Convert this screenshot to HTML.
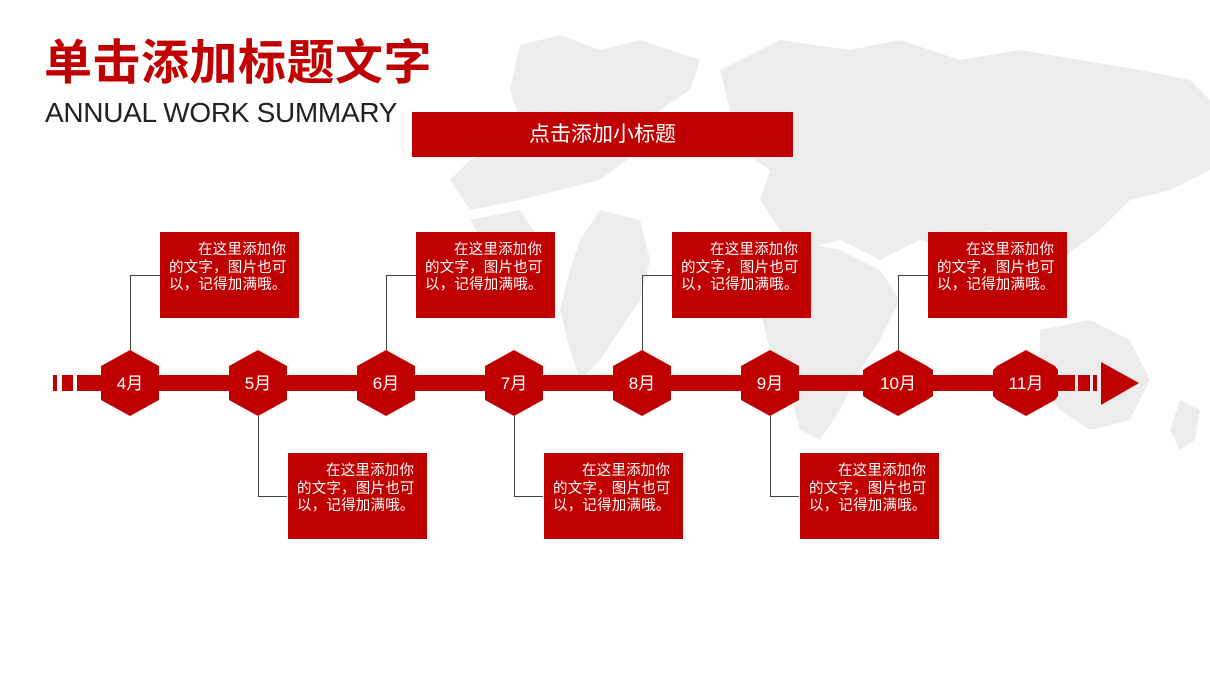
<!DOCTYPE html>
<html><head><meta charset="utf-8"><style>
body{margin:0;width:1210px;height:680px;overflow:hidden;background:#fff;position:relative;font-family:"Liberation Sans","Noto Sans CJK SC",sans-serif}
.abs{position:absolute}
.box{position:absolute;width:139px;height:86px;background:#c00000;color:#fff;font-size:14.5px;line-height:17.5px;box-sizing:border-box;padding:10px 8px 0 9px;text-indent:29px;letter-spacing:0.2px}
</style></head><body>
<svg class="abs" style="left:0;top:0" width="1210" height="680">
<g fill="#ececec">
<path d="M520 45 L560 35 L600 50 L640 40 L700 60 L690 90 L660 110 L640 150 L600 180 L560 190 L520 200 L470 210 L450 180 L470 160 L500 150 L520 120 L510 90 Z"/>
<path d="M720 70 L780 40 L850 50 L900 40 L960 60 L1020 50 L1080 60 L1140 70 L1190 80 L1210 100 L1210 170 L1170 190 L1130 200 L1100 230 L1060 260 L1030 250 L990 230 L950 250 L920 240 L880 260 L840 240 L800 250 L780 230 L760 200 L770 170 L740 150 L730 110 Z"/>
<path d="M600 210 L640 220 L650 260 L640 300 L620 330 L600 360 L580 380 L570 350 L560 310 L570 270 L580 240 Z"/>
<path d="M790 240 L840 250 L880 270 L900 300 L880 340 L860 370 L840 410 L820 440 L800 430 L790 390 L770 350 L760 310 L770 270 Z"/>
<path d="M1040 330 L1090 320 L1130 340 L1150 380 L1130 420 L1090 430 L1060 410 L1040 380 Z"/>
<path d="M1180 400 L1200 410 L1195 440 L1180 450 L1170 430 Z"/>
<path d="M470 220 L520 210 L540 240 L520 260 L490 255 Z"/>
</g>
<g fill="#c00000">
<rect x="53" y="375" width="4" height="16"/>
<rect x="62" y="375" width="11" height="16"/>
<rect x="77" y="375" width="20" height="16"/>
<rect x="97" y="375" width="978" height="16"/>
<rect x="1078" y="375" width="12" height="16"/>
<rect x="1093" y="375" width="4" height="16"/>
<polygon points="1101,362 1139,383 1101,405"/>
</g>
<g fill="none" stroke="#444" stroke-width="1">
<polyline points="130.5,350 130.5,275.5 160,275.5"/>
<polyline points="386.5,350 386.5,275.5 416,275.5"/>
<polyline points="642.5,350 642.5,275.5 672,275.5"/>
<polyline points="898.5,350 898.5,275.5 928,275.5"/>
<polyline points="258.5,416 258.5,496.5 287,496.5"/>
<polyline points="514.5,416 514.5,496.5 543,496.5"/>
<polyline points="770.5,416 770.5,496.5 799,496.5"/>
</g>
<g fill="#c00000">
<polygon points="130,350 159,366 159,400 130,416 101,400 101,366"/>
<polygon points="258,350 287,366 287,400 258,416 229,400 229,366"/>
<polygon points="386,350 415,366 415,400 386,416 357,400 357,366"/>
<polygon points="514,350 543,366 543,400 514,416 485,400 485,366"/>
<polygon points="642,350 671,366 671,400 642,416 613,400 613,366"/>
<polygon points="770,350 799,366 799,400 770,416 741,400 741,366"/>
<polygon points="898,350 927,366 933,370 933,396 927,400 898,416 869,400 863,396 863,370 869,366"/>
<polygon points="1026,350 1055,366 1058,370 1058,396 1055,400 1026,416 997,400 993,396 993,370 997,366"/>
</g>
<g fill="#fff" font-size="17" text-anchor="middle" font-family="Liberation Sans,Noto Sans CJK SC,sans-serif">
<text x="130" y="389">4月</text><text x="258" y="389">5月</text><text x="386" y="389">6月</text><text x="514" y="389">7月</text>
<text x="642" y="389">8月</text><text x="770" y="389">9月</text><text x="898" y="389">10月</text><text x="1026" y="389">11月</text>
</g>
</svg>
<div class="abs" style="left:44px;top:35px;font-size:48px;font-weight:bold;color:#c00000;line-height:58px;letter-spacing:0.5px">单击添加标题文字</div>
<div class="abs" style="left:45px;top:96px;font-size:28px;color:#222;line-height:34px;letter-spacing:-0.3px">ANNUAL WORK SUMMARY</div>
<div class="abs" style="left:412px;top:112px;width:381px;height:45px;background:#c00000;color:#fff;font-size:21px;line-height:45px;text-align:center">点击添加小标题</div>
<div class="box" style="left:160px;top:232px">在这里添加你的文字，图片也可以，记得加满哦。</div>
<div class="box" style="left:416px;top:232px">在这里添加你的文字，图片也可以，记得加满哦。</div>
<div class="box" style="left:672px;top:232px">在这里添加你的文字，图片也可以，记得加满哦。</div>
<div class="box" style="left:928px;top:232px">在这里添加你的文字，图片也可以，记得加满哦。</div>
<div class="box" style="left:288px;top:453px">在这里添加你的文字，图片也可以，记得加满哦。</div>
<div class="box" style="left:544px;top:453px">在这里添加你的文字，图片也可以，记得加满哦。</div>
<div class="box" style="left:800px;top:453px">在这里添加你的文字，图片也可以，记得加满哦。</div>
</body></html>
